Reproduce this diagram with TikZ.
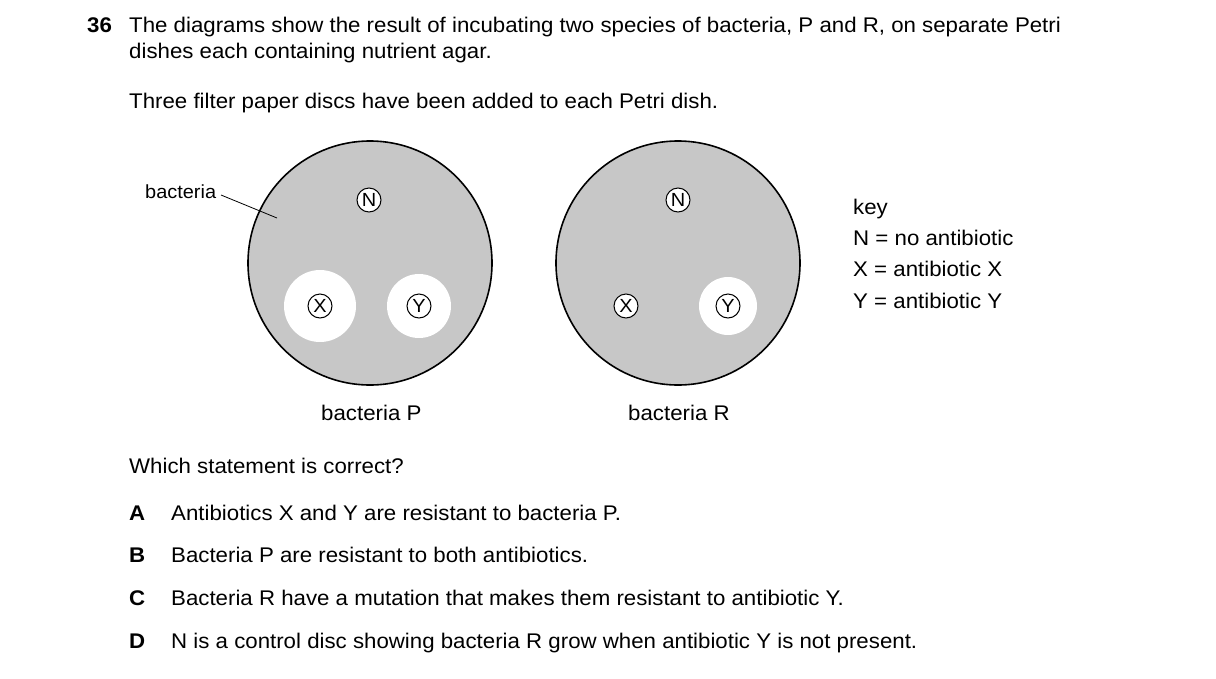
\documentclass[tikz,border=0pt]{standalone}
\usepackage{fontspec}
\setmainfont{Liberation Sans}[FakeStretch=1.05]
\begin{document}
\begin{tikzpicture}[x=1pt,y=-1pt,
  txt/.style={anchor=base west,inner sep=0pt,font=\fontsize{21.2}{25}\selectfont},
  bold/.style={txt,font=\fontsize{21.2}{25}\selectfont\bfseries},
  small/.style={anchor=base west,inner sep=0pt,font=\fontsize{19}{22}\selectfont},
  dish/.style={draw,line width=1.6pt,fill=black!22},
  zone/.style={fill=white},
  disc/.style={circle,draw,fill=white,line width=1pt,minimum size=24pt,inner sep=0pt,font=\fontsize{19}{22}\selectfont}]
\useasboundingbox (0,0) rectangle (1216,678);
\node[bold] (q) at (87,32) {36};
\node[txt] (t1) at (129,32) {The diagrams show the result of incubating two species of bacteria, P and R, on separate Petri};
\node[txt] (t2) at (129,58) {dishes each containing nutrient agar.};
\node[txt] (t3) at (129,108) {Three filter paper discs have been added to each Petri dish.};
% dish P
\draw[dish] (370,263) circle (122);
\fill[zone] (320,306) circle (36);
\fill[zone] (419,306) circle (32);
\node[disc] (pn) at (369,200) {N};
\node[disc] (px) at (320,306) {X};
\node[disc] (py) at (419,306) {Y};
\node[small] (bl) at (145,198) {bacteria};
\coordinate (bt) at (277,218);
\draw[line width=0.8pt] (221,195) -- (bt);
\node[txt] (lp) at (321,420) {bacteria P};
% dish R
\draw[dish] (678,263) circle (122);
\fill[zone] (728,306) circle (29);
\node[disc] (rn) at (678,200) {N};
\node[disc] (rx) at (626,306) {X};
\node[disc] (ry) at (728,306) {Y};
\node[txt] (lr) at (628,420) {bacteria R};
% key
\node[txt] (k0) at (853,214) {key};
\node[txt] (k1) at (853,245) {N = no antibiotic};
\node[txt] (k2) at (853,276) {X = antibiotic X};
\node[txt] (k3) at (853,308) {Y = antibiotic Y};
% question
\node[txt] (q2) at (129,473) {Which statement is correct?};
\node[bold] (la) at (129,520) {A};
\node[txt] (a) at (171,520) {Antibiotics X and Y are resistant to bacteria P.};
\node[bold] (lb) at (129,562) {B};
\node[txt] (b) at (171,562) {Bacteria P are resistant to both antibiotics.};
\node[bold] (lc) at (129,605) {C};
\node[txt] (c) at (171,605) {Bacteria R have a mutation that makes them resistant to antibiotic Y.};
\node[bold] (ld) at (129,648) {D};
\node[txt] (d) at (171,648) {N is a control disc showing bacteria R grow when antibiotic Y is not present.};
\end{tikzpicture}
\end{document}
